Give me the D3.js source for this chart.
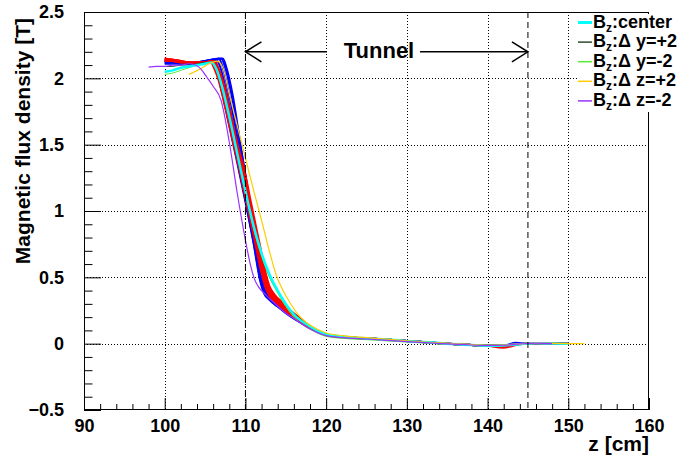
<!DOCTYPE html>
<html><head><meta charset="utf-8">
<script src="https://cdn.jsdelivr.net/npm/d3@7"></script>
<style>
html,body{margin:0;padding:0;background:#fff;}
svg{display:block;font-family:"Liberation Sans",Arial,Helvetica,sans-serif;font-weight:bold;}
</style></head>
<body>
<svg id="c" width="678" height="457"></svg>
<script>
// ---- axis settings / tick labels ----
const xDomain = [90, 160];
const yDomain = [-0.5, 2.5];
const xMajorTicks = [90, 100, 110, 120, 130, 140, 150, 160];
const yMajorTicks = [-0.5, 0, 0.5, 1, 1.5, 2, 2.5];
const yTickLabels = ["\u22120.5", "0", "0.5", "1", "1.5", "2", "2.5"];
const xGrid = [100, 110, 120, 130, 140, 150];
const yGrid = [0, 0.5, 1, 1.5, 2];
const xTitle = "z [cm]";
const yTitle = "Magnetic flux density [T]";
const tunnelStart = 110, tunnelEnd = 145, tunnelArrowB = 2.2;
const tunnelLabel = "Tunnel";

// ---- series (z [cm], Bz [T]) ----
const blue1 = [[100,2.13],[101,2.13],[102,2.12],[103,2.11],[104,2.11],[105,2.12],[105.8,2.13],[106.3,2.08],[107,1.92],[108,1.64],[109,1.36],[110,1.07],[111,0.76],[111.8,0.48],[112.3,0.38],[113,0.33],[114,0.28],[115,0.23],[116,0.19],[118,0.12],[120,0.065],[122,0.05],[125,0.04],[130,0.02],[135,0.0],[138,-0.01],[140,-0.015],[142,-0.014],[143.5,0.006],[145,0.001],[148,0.002],[150,0.0]];
const blue2 = [[100,2.14],[101,2.13],[102,2.12],[103,2.11],[104,2.11],[105,2.12],[106.1,2.14],[106.6,2.08],[107.3,1.91],[108,1.70],[109,1.39],[110,1.08],[111,0.77],[111.9,0.47],[112.4,0.38],[113,0.33],[114,0.28],[115,0.235],[116,0.19],[118,0.12],[120,0.065],[122,0.05],[125,0.04],[130,0.02],[135,0.0],[138,-0.01],[140,-0.016],[142,-0.014],[144,-0.002],[146,0.003],[148,0.001],[150,0.0]];
const blue3 = [[100,2.12],[101,2.12],[102,2.11],[103,2.11],[104,2.11],[105,2.12],[106.4,2.14],[106.9,2.08],[107.6,1.91],[108.5,1.64],[109.5,1.33],[110.5,0.99],[111.5,0.66],[112.1,0.45],[112.5,0.38],[113.2,0.33],[114,0.29],[115,0.24],[116,0.195],[118,0.12],[120,0.066],[122,0.05],[125,0.04],[130,0.02],[135,0.0],[138,-0.01],[140,-0.015],[142,-0.013],[144,-0.003],[146,0.003],[148,0.001],[150,0.0]];
const blue4 = [[100,2.13],[101,2.12],[102,2.12],[103,2.11],[104,2.12],[105,2.13],[106.7,2.15],[107.2,2.08],[107.9,1.90],[108.8,1.62],[109.8,1.28],[110.8,0.92],[111.7,0.60],[112.2,0.45],[112.6,0.38],[113.3,0.33],[114,0.295],[115,0.245],[116,0.2],[118,0.12],[120,0.066],[122,0.05],[125,0.04],[130,0.02],[135,0.0],[138,-0.01],[140,-0.015],[142,-0.013],[144,-0.003],[146,0.003],[148,0.001],[150,0.0]];
const blue5 = [[100,2.12],[101,2.12],[102,2.11],[103,2.11],[104,2.12],[105,2.13],[107.0,2.15],[107.5,2.08],[108.2,1.90],[109.1,1.60],[110,1.27],[111,0.90],[111.9,0.56],[112.3,0.45],[112.7,0.39],[113.4,0.34],[114,0.30],[115,0.25],[116,0.2],[118,0.12],[120,0.067],[122,0.05],[125,0.04],[130,0.02],[135,0.0],[138,-0.01],[140,-0.015],[142,-0.013],[144,-0.003],[146,0.003],[148,0.001],[150,0.0]];
const blue6 = [[100,2.11],[101,2.11],[102,2.11],[103,2.11],[104,2.12],[105,2.13],[107.2,2.15],[107.7,2.07],[108.4,1.88],[109.5,1.45],[110.3,1.15],[111.2,0.82],[112,0.52],[112.5,0.42],[113,0.36],[114,0.30],[115,0.25],[116,0.205],[118,0.125],[120,0.068],[122,0.05],[125,0.04],[130,0.02],[135,0.0],[138,-0.01],[140,-0.015],[142,-0.013],[144,-0.003],[146,0.003],[148,0.001],[150,0.0]];

const red1 = [[100,2.15],[101,2.14],[102,2.13],[103,2.12],[104,2.12],[105,2.12],[105.6,2.13],[106.1,2.08],[106.7,1.98],[107.5,1.78],[108.5,1.51],[109,1.38],[110,1.10],[111,0.82],[112,0.53],[112.5,0.42],[113,0.36],[114,0.30],[115,0.245],[116,0.2],[118,0.12],[120,0.065],[122,0.05],[125,0.04],[130,0.02],[135,0.0],[138,-0.01],[140,-0.015],[142,-0.014],[144,-0.003],[146,0.003],[148,0.001],[150,0.0]];
const red2 = [[100,2.14],[101,2.14],[102,2.13],[103,2.12],[104,2.12],[105,2.12],[105.8,2.13],[106.3,2.08],[106.9,1.98],[107.7,1.78],[108.7,1.51],[109.2,1.38],[110.2,1.10],[111.2,0.82],[112.2,0.53],[112.7,0.42],[113.2,0.36],[114.2,0.30],[115.2,0.245],[116.2,0.2],[118,0.125],[120,0.066],[122,0.05],[125,0.04],[130,0.02],[135,0.0],[138,-0.01],[140,-0.015],[142,-0.014],[144,-0.003],[146,0.003],[148,0.001],[150,0.0]];
const red3 = [[100,2.13],[101,2.13],[102,2.12],[103,2.12],[104,2.12],[105,2.12],[105.9,2.13],[106.4,2.08],[107.0,1.98],[107.9,1.76],[108.9,1.49],[109.4,1.37],[110.4,1.08],[111.4,0.80],[112.3,0.53],[112.8,0.42],[113.4,0.36],[114.4,0.30],[115.4,0.245],[116.4,0.2],[118,0.128],[120,0.067],[122,0.05],[125,0.04],[130,0.02],[135,0.0],[138,-0.01],[140,-0.015],[142,-0.014],[144,-0.003],[146,0.003],[148,0.001],[150,0.0]];
const red4 = [[100,2.15],[101,2.14],[102,2.13],[103,2.12],[104,2.11],[105,2.12],[106.0,2.13],[106.6,2.07],[107.2,1.97],[108.0,1.76],[109.0,1.49],[109.6,1.35],[110.5,1.08],[111.5,0.79],[112.4,0.53],[112.9,0.43],[113.5,0.37],[114.5,0.31],[115.5,0.25],[116.5,0.2],[118,0.13],[120,0.068],[122,0.05],[125,0.04],[130,0.02],[135,0.0],[138,-0.01],[140,-0.016],[141.9,-0.03],[143,-0.02],[144,-0.004],[146,0.003],[148,0.001],[150,0.0]];
const red5 = [[100,2.14],[101,2.13],[102,2.12],[103,2.12],[104,2.12],[105,2.12],[106.1,2.13],[106.7,2.07],[107.3,1.96],[108.1,1.75],[109.1,1.48],[109.8,1.33],[110.7,1.06],[111.7,0.77],[112.6,0.51],[113.0,0.43],[113.6,0.37],[114.6,0.31],[115.6,0.25],[116.6,0.2],[118,0.13],[120,0.068],[122,0.05],[125,0.04],[130,0.02],[135,0.0],[138,-0.01],[140,-0.015],[142,-0.014],[144,-0.003],[146,0.003],[148,0.001],[150,0.0]];

const center = [[100,2.05],[101,2.06],[102,2.08],[103,2.09],[104,2.10],[105,2.11],[105.8,2.12],[106.4,2.07],[107,1.96],[108,1.71],[109,1.43],[110,1.15],[111,0.89],[112,0.68],[113,0.52],[114,0.40],[115,0.30],[116,0.22],[118,0.13],[120,0.07],[122,0.055],[125,0.04],[128,0.03],[130,0.02],[133,0.01],[135,0.0],[138,-0.01],[140,-0.015],[142,-0.013],[144,-0.004],[146,0.003],[148,0.001],[150,0.0]];
const yPlus2 = [[100,2.09],[101,2.09],[102,2.10],[103,2.10],[104,2.11],[105,2.12],[105.9,2.12],[106.5,2.06],[107.1,1.95],[108,1.72],[109,1.44],[110,1.15],[111,0.88],[112,0.66],[113,0.50],[114,0.39],[115,0.30],[116,0.23],[118,0.135],[120,0.075],[122,0.056],[125,0.042],[130,0.02],[135,0.0],[138,-0.01],[140,-0.015],[142,-0.012],[144,-0.003],[146,0.003],[148,0.001],[150,0.0]];
const yMinus2 = [[100,2.03],[101,2.04],[102,2.06],[103,2.08],[104,2.10],[105,2.11],[105.8,2.12],[106.4,2.06],[107,1.95],[108,1.70],[109,1.42],[110,1.14],[111,0.87],[112,0.66],[113,0.50],[114,0.38],[115,0.28],[116,0.20],[118,0.11],[120,0.055],[122,0.04],[125,0.03],[130,0.012],[135,-0.005],[138,-0.012],[140,-0.016],[142,-0.012],[144,-0.003],[146,0.003],[150,0.0]];
const zPlus2 = [[103,2.03],[103.7,2.05],[104.4,2.07],[105.5,2.11],[106.5,2.13],[107.2,2.08],[108,1.88],[109,1.64],[110,1.40],[111,1.16],[112,0.93],[113,0.69],[113.8,0.52],[114.5,0.42],[115.5,0.31],[116.8,0.2],[118,0.14],[120,0.08],[122,0.06],[125,0.045],[128,0.032],[130,0.022],[135,0.003],[138,-0.007],[140,-0.012],[142,-0.01],[144,-0.002],[146,0.004],[148,0.002],[150,0.0],[152,0.0]];
const zMinus2 = [[98,2.085],[99,2.09],[100,2.09],[101,2.10],[102,2.10],[103,2.11],[103.8,2.10],[104.5,2.07],[105.2,2.01],[106,1.94],[107,1.83],[108,1.52],[109,1.13],[110,0.78],[110.6,0.60],[111.1,0.49],[111.6,0.43],[112.5,0.37],[113.5,0.31],[115,0.23],[116,0.19],[118,0.11],[120,0.06],[122,0.045],[125,0.035],[130,0.015],[135,-0.002],[138,-0.01],[140,-0.015],[142,-0.012],[144,-0.002],[146,0.004],[148,0.0]];

const legendLabels = [":center", ":\u0394 y=+2", ":\u0394 y=-2", ":\u0394 z=+2", ":\u0394 z=-2"];

// ---- drawing ----
const svg = d3.select("#c");
const W = 678, H = 457;
const L = 84, R = 649, T = 12, B = 410;
const x = d3.scaleLinear().domain(xDomain).range([L, R]);
const y = d3.scaleLinear().domain(yDomain).range([B, T]);

svg.append("rect").attr("width", W).attr("height", H).attr("fill", "#fff");

// grid
const grid = svg.append("g").attr("stroke", "#000").attr("stroke-width", 1).attr("stroke-dasharray", "1,2");
grid.selectAll("line.gx").data(xGrid).join("line")
  .attr("x1", d => Math.round(x(d)) + 0.5).attr("x2", d => Math.round(x(d)) + 0.5)
  .attr("y1", T).attr("y2", B);
grid.selectAll("line.gy").data(yGrid).join("line")
  .attr("y1", d => Math.round(y(d)) + 0.5).attr("y2", d => Math.round(y(d)) + 0.5)
  .attr("x1", L).attr("x2", R);

// curves
const line = d3.line().x(d => x(d[0])).y(d => y(d[1])).curve(d3.curveMonotoneX);
const plotSeries = [
  {data: blue1, color: "#0000ff", w: 2}, {data: blue2, color: "#0000ff", w: 2},
  {data: blue3, color: "#0000ff", w: 2}, {data: blue4, color: "#0000ff", w: 2},
  {data: blue5, color: "#0000ff", w: 2}, {data: blue6, color: "#0000ff", w: 2},
  {data: red1, color: "#ff0000", w: 2}, {data: red2, color: "#ff0000", w: 2},
  {data: red3, color: "#ff0000", w: 2}, {data: red4, color: "#ff0000", w: 2},
  {data: red5, color: "#ff0000", w: 2},
  {data: yPlus2, color: "#2e4a2e", w: 1},
  {data: yMinus2, color: "#55ee33", w: 1},
  {data: center, color: "#00ffff", w: 2.5},
  {data: zPlus2, color: "#ffcc00", w: 1.2},
  {data: zMinus2, color: "#9933ff", w: 1.2}
];
svg.append("g").attr("fill", "none").selectAll("path").data(plotSeries).join("path")
  .attr("d", d => line(d.data)).attr("stroke", d => d.color).attr("stroke-width", d => d.w)
  .attr("stroke-linejoin", "round");

// tunnel vertical lines
svg.append("line").attr("x1", x(tunnelStart)).attr("x2", x(tunnelStart)).attr("y1", T).attr("y2", B)
  .attr("stroke", "#000").attr("stroke-width", 1).attr("stroke-dasharray", "7,3,1,3");
svg.append("line").attr("x1", x(tunnelEnd)).attr("x2", x(tunnelEnd)).attr("y1", T).attr("y2", B)
  .attr("stroke", "#000").attr("stroke-width", 1).attr("stroke-dasharray", "6,4");

// axes
const fmtY = d => yTickLabels[yMajorTicks.indexOf(d)];
const yMinor = d3.range(-5, 26).map(i => i / 10).filter(v => !yMajorTicks.some(m => Math.abs(m - v) < 1e-9));
const xMinor = d3.range(90, 161, 2).filter(v => v % 10 !== 0);

svg.append("g").attr("transform", `translate(${L},0)`)
  .call(d3.axisLeft(y).tickValues(yMajorTicks).tickFormat(fmtY).tickSize(-17).tickSizeOuter(0).tickPadding(20));
svg.append("g").attr("transform", `translate(${L},0)`)
  .call(d3.axisLeft(y).tickValues(yMinor).tickFormat("").tickSize(-8.5).tickSizeOuter(0));
svg.append("g").attr("transform", `translate(0,${B})`)
  .call(d3.axisBottom(x).tickValues(xMajorTicks).tickFormat(d3.format("d")).tickSize(-12).tickSizeOuter(0).tickPadding(9));
svg.append("g").attr("transform", `translate(0,${B})`)
  .call(d3.axisBottom(x).tickValues(xMinor).tickFormat("").tickSize(-6).tickSizeOuter(0));
svg.selectAll(".domain").remove();
svg.selectAll(".tick line").attr("stroke", "#000");
svg.selectAll(".tick text").attr("font-size", 18).attr("font-weight", "bold")
  .attr("font-family", "'Liberation Sans', Arial, sans-serif").attr("fill", "#000");

// frame
svg.append("rect").attr("x", L + 0.5).attr("y", T + 0.5).attr("width", R - L - 1).attr("height", B - T - 1)
  .attr("fill", "none").attr("stroke", "#000").attr("stroke-width", 1);

// axis titles
svg.append("text").attr("x", R).attr("y", 451).attr("text-anchor", "end")
  .attr("font-size", 21).text(xTitle);
svg.append("text").attr("transform", `translate(30,${T + 6}) rotate(-90)`).attr("text-anchor", "end")
  .attr("font-size", 21).text(yTitle);

// tunnel annotation
const ay = y(tunnelArrowB);
const xa = x(tunnelStart), xb = x(tunnelEnd);
const labelMid = x(126.55);
const ann = svg.append("g").attr("stroke", "#000").attr("stroke-width", 1.5).attr("fill", "none");
ann.append("line").attr("x1", xa).attr("x2", labelMid - 52).attr("y1", ay).attr("y2", ay);
ann.append("line").attr("x1", labelMid + 41).attr("x2", xb).attr("y1", ay).attr("y2", ay);
ann.append("path").attr("d", `M${xa + 16},${ay - 10}L${xa},${ay}L${xa + 16},${ay + 10}`);
ann.append("path").attr("d", `M${xb - 16},${ay - 10}L${xb},${ay}L${xb - 16},${ay + 10}`);
svg.append("text").attr("x", labelMid).attr("y", 57.5).attr("text-anchor", "middle")
  .attr("font-size", 22).text(tunnelLabel);

// legend
const legendColors = ["#00ffff", "#2e4a2e", "#55ee33", "#ffcc00", "#9933ff"];
const legendWidths = [3, 1.5, 1.5, 1.5, 1.5];
const lg = svg.append("g");
lg.append("rect").attr("x", 577).attr("y", 14).attr("width", 101).attr("height", 98).attr("fill", "#fff");
legendLabels.forEach((lab, i) => {
  const ly = 22.5 + i * 19.6;
  lg.append("line").attr("x1", 578).attr("x2", 592).attr("y1", ly).attr("y2", ly)
    .attr("stroke", legendColors[i]).attr("stroke-width", legendWidths[i]);
  const t = lg.append("text").attr("x", 593).attr("y", ly + 5).attr("font-size", 18);
  t.append("tspan").text("B");
  t.append("tspan").attr("font-size", 12).attr("dy", 4).text("z");
  t.append("tspan").attr("dy", -4).text(lab);
});
</script>
</body></html>
